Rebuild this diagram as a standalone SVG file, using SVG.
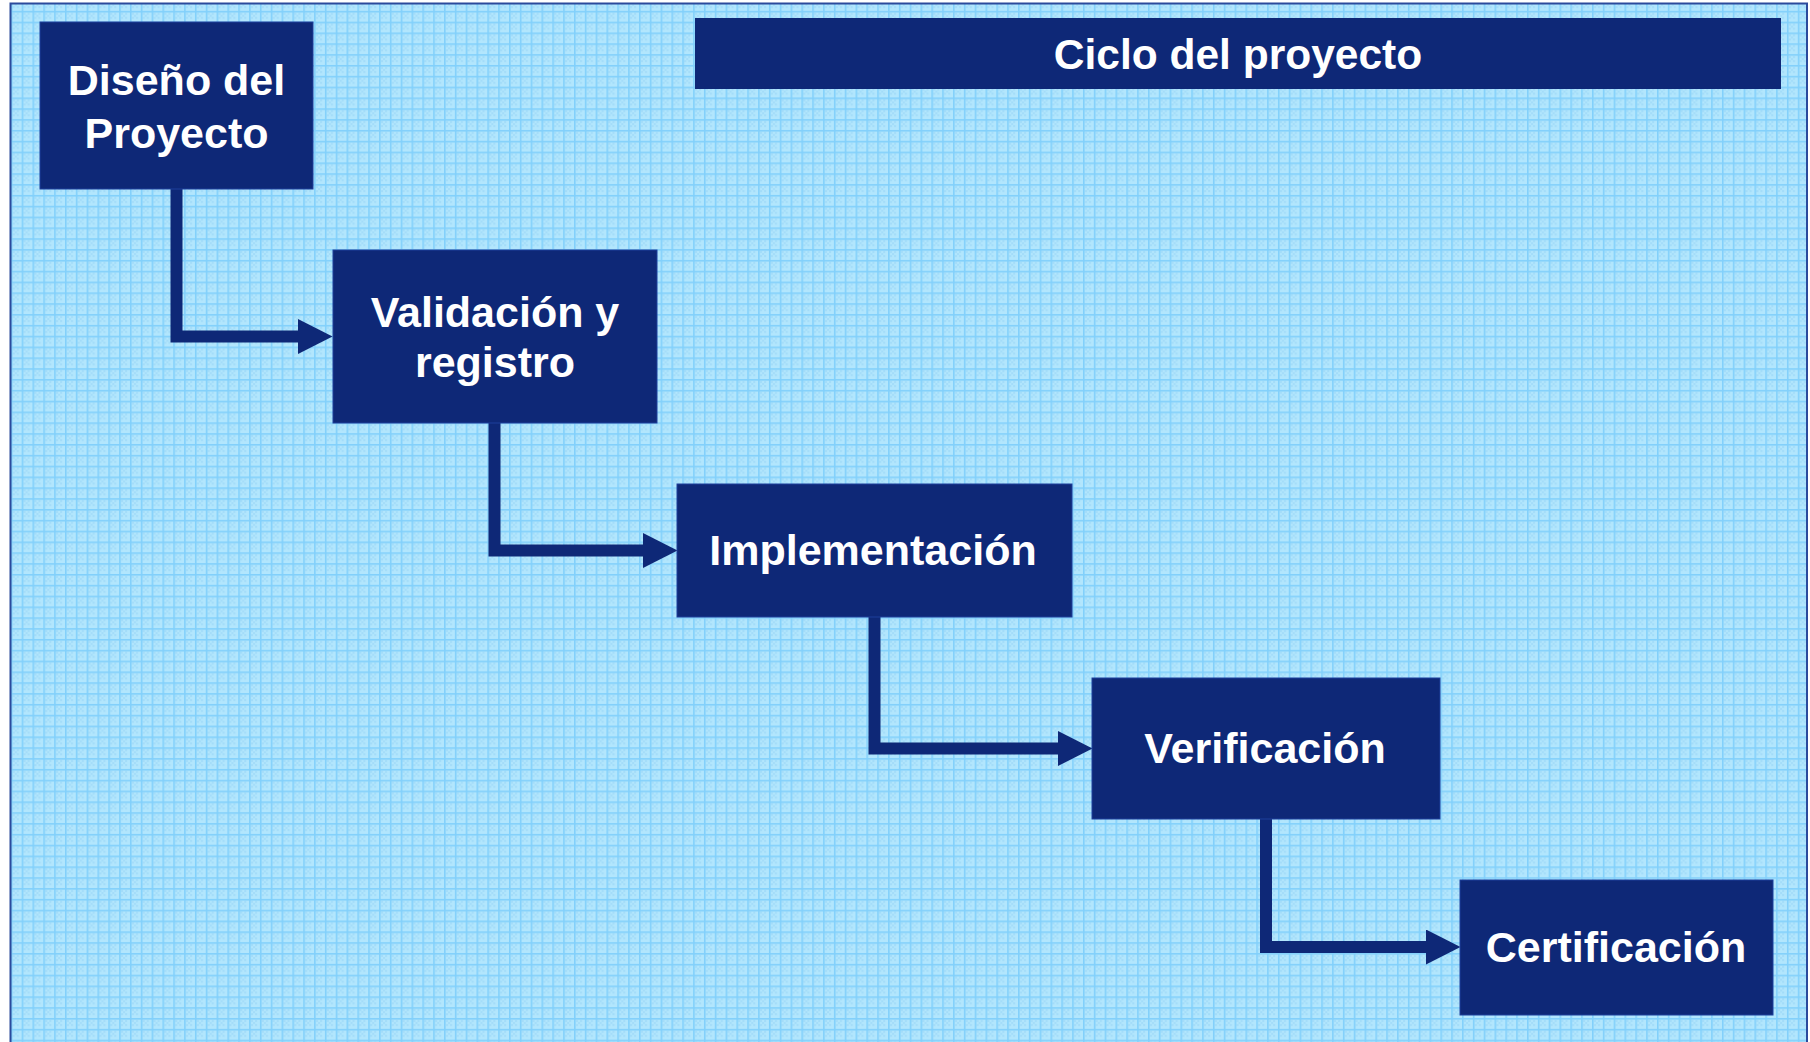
<svg xmlns="http://www.w3.org/2000/svg" width="1810" height="1042" viewBox="0 0 1810 1042">
<style>
.node rect{fill:#0e2877;stroke:#1d3f9c;stroke-width:1}
.node text{font-family:"Liberation Sans",Arial,sans-serif;font-weight:bold;font-size:43px;fill:#ffffff;text-anchor:middle}
.conn path{fill:none;stroke:#0e2877;stroke-width:12;stroke-linejoin:miter;stroke-linecap:butt}
</style>
<defs>
<pattern id="grid" patternUnits="userSpaceOnUse" width="10.83" height="10.83">
<rect width="10.83" height="10.83" fill="#b2e6fd"/>
<rect x="2" y="2" width="2" height="2" fill="#a3dcf9"/>
<rect x="6" y="2" width="2" height="2" fill="#a3dcf9"/>
<rect x="4" y="4" width="2" height="2" fill="#a3dcf9"/>
<rect x="2" y="6" width="2" height="2" fill="#a3dcf9"/>
<rect x="6" y="6" width="2" height="2" fill="#a3dcf9"/>
<rect x="0" y="0" width="10.83" height="1.6" fill="#82d0fb"/>
<rect x="0" y="0" width="1.6" height="10.83" fill="#82d0fb"/>
</pattern>
<marker id="arrow" markerUnits="userSpaceOnUse" markerWidth="36" markerHeight="36" refX="0" refY="17.5" orient="auto">
<path d="M0,0 L34.5,17.5 L0,35 Z" fill="#0e2877"/>
</marker>
</defs>
<rect width="1810" height="1042" fill="#ffffff"/>
<rect x="10.5" y="3.5" width="1796.5" height="1045" fill="url(#grid)" stroke="#2b4a9c" stroke-width="2"/>
<g id="title">
<rect x="695" y="18" width="1086" height="71" fill="#0e2877"/>
<text x="1238" y="68.5" font-family="'Liberation Sans',Arial,sans-serif" font-weight="bold" font-size="42.5" fill="#ffffff" text-anchor="middle">Ciclo del proyecto</text>
</g>
<g class="conn" id="connectors">
<path d="M176.5,189 V336.5 H298" marker-end="url(#arrow)"/>
<path d="M494.5,423 V550.5 H643" marker-end="url(#arrow)"/>
<path d="M874.5,617 V748.5 H1058" marker-end="url(#arrow)"/>
<path d="M1266,819 V947 H1426" marker-end="url(#arrow)"/>
</g>
<g class="node" id="node-diseno">
<rect x="40" y="22" width="273" height="167"/>
<text x="176.5" y="95">Diseño del</text>
<text x="176.5" y="148">Proyecto</text>
</g>
<g class="node" id="node-validacion">
<rect x="333" y="250" width="324" height="173"/>
<text x="495" y="327">Validación y</text>
<text x="495" y="377">registro</text>
</g>
<g class="node" id="node-implementacion">
<rect x="677" y="484" width="395" height="133"/>
<text x="873" y="565">Implementación</text>
</g>
<g class="node" id="node-verificacion">
<rect x="1092" y="678" width="348" height="141"/>
<text x="1265" y="763">Verificación</text>
</g>
<g class="node" id="node-certificacion">
<rect x="1460" y="880" width="313" height="135"/>
<text x="1616" y="962">Certificación</text>
</g>
</svg>
